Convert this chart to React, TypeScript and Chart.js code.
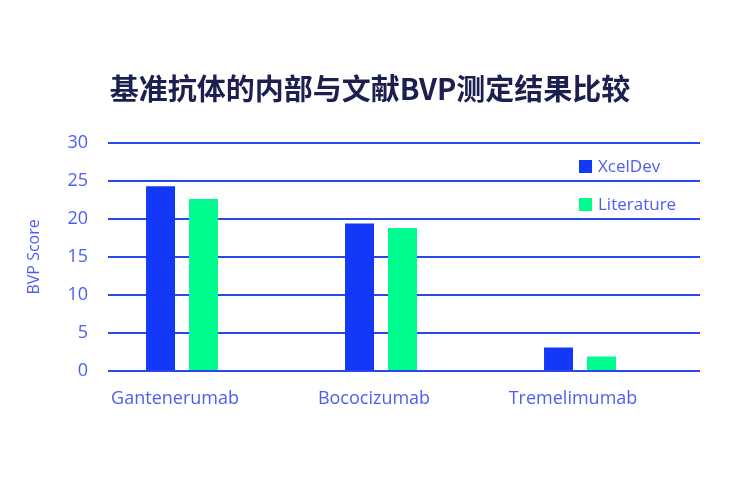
import React, { useEffect, useRef } from "react";
import { Chart, registerables } from "chart.js";

Chart.register(...registerables);

const titleText = "基准抗体的内部与文献BVP测定结果比较";
const yAxisTitle = "BVP Score";
const categories = ["Gantenerumab", "Bococizumab", "Tremelimumab"];
const seriesNames = ["XcelDev", "Literature"];
const xcelDevValues = [24.3, 19.4, 3.1];
const literatureValues = [22.6, 18.8, 1.9];
const yTickValues = [0, 5, 10, 15, 20, 25, 30];

const seriesColors = ["#1438f8", "#00fb8e"];
const textBlue = "#4c5ef2";
const gridBlue = "#2a48ea";
const fontFamily = "'Open Sans', 'Noto Sans', sans-serif";

export default function App() {
  const ref = useRef<HTMLCanvasElement>(null);

  useEffect(() => {
    document.body.style.margin = "0";
    const canvas = ref.current!;
    const chart = new Chart(canvas, {
      type: "bar",
      data: {
        datasets: [
          {
            label: seriesNames[0],
            data: xcelDevValues.map((y, i) => ({ x: i, y })),
            backgroundColor: seriesColors[0],
            categoryPercentage: 0.432,
            barPercentage: 0.674,
          },
          {
            label: seriesNames[1],
            data: literatureValues.map((y, i) => ({ x: i, y })),
            backgroundColor: seriesColors[1],
            categoryPercentage: 0.432,
            barPercentage: 0.674,
          },
        ],
      },
      options: {
        responsive: false,
        animation: false,
        devicePixelRatio: 1,
        layout: { padding: { left: 40, right: 32, top: 0, bottom: 0 } },
        plugins: {
          legend: { display: false },
          tooltip: { enabled: false },
          title: {
            display: true,
            text: titleText,
            color: "#1c2050",
            font: { family: "'Noto Sans CJK SC', sans-serif", size: 29, weight: "bold" },
            padding: { top: 72, bottom: 36 },
          },
        },
        scales: {
          x: {
            type: "linear",
            offset: false,
            min: -0.372,
            max: 2.603,
            grid: { display: false },
            border: { display: false },
            afterBuildTicks: (s: any) => {
              s.ticks = categories.map((_, i) => ({ value: i }));
            },
            afterFit: (s: any) => {
              s.height = 107;
            },
            ticks: {
              autoSkip: false,
              maxRotation: 0,
              padding: 9,
              labelOffset: -7,
              color: textBlue,
              font: { family: fontFamily, size: 18 },
              callback: (v: any) => categories[Number(v)] ?? "",
            },
          },
          y: {
            min: 0,
            max: 30,
            afterBuildTicks: (s: any) => {
              s.ticks = yTickValues.map((value) => ({ value }));
            },
            afterFit: (s: any) => {
              s.width = 68;
            },
            grid: { color: gridBlue, lineWidth: 2, drawTicks: false },
            border: { display: false },
            ticks: {
              padding: 20,
              color: textBlue,
              font: { family: fontFamily, size: 18 },
            },
            title: {
              display: true,
              text: yAxisTitle,
              color: textBlue,
              font: { family: fontFamily, size: 16 },
              padding: { top: -15, bottom: 0 },
            },
          },
        },
      },
    });
    return () => chart.destroy();
  }, []);

  const legendItem = (i: number, top: number) => (
    <div
      key={i}
      style={{
        position: "absolute",
        left: 579,
        top,
        display: "flex",
        alignItems: "center",
        fontFamily,
        fontSize: 17,
        color: textBlue,
        lineHeight: "20px",
      }}
    >
      <span
        style={{
          display: "inline-block",
          width: 13,
          height: 13,
          background: seriesColors[i],
          marginRight: 6,
        }}
      />
      {seriesNames[i]}
    </div>
  );

  return (
    <div style={{ position: "relative", width: 732, height: 478, background: "#fff" }}>
      <canvas ref={ref} width={732} height={478} style={{ display: "block", width: 732, height: 478 }} />
      {legendItem(0, 156)}
      {legendItem(1, 194)}
    </div>
  );
}
